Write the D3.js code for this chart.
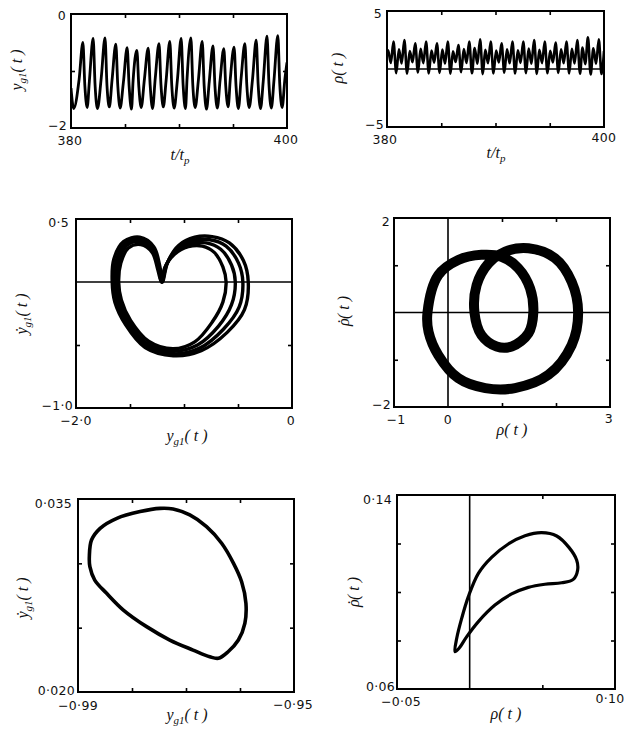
<!DOCTYPE html>
<html>
<head>
<meta charset="utf-8">
<script src="https://cdn.jsdelivr.net/npm/d3@7"></script>
<style>
  body { margin: 0; background: #fff; }
  .tick-label { font-family: "DejaVu Sans", sans-serif; font-size: 12.5px; fill: #111; letter-spacing: 0.3px; }
  .axis-label { font-family: "Liberation Serif", serif; font-style: italic; font-size: 16px; fill: #111; }
</style>
</head>
<body>
<svg id="fig" width="630" height="742"></svg>
<script>
// ---------- y_g1(t) time series: samples at peaks, shoulders and troughs ----------
const ygTimes = [
  380.00, 380.25, 380.75, 381.10, 381.28, 381.50, 381.70, 382.05, 382.23, 382.45,
  382.80, 383.15, 383.33, 383.55, 383.80, 384.15, 384.33, 384.55, 384.85, 385.20,
  385.38, 385.60, 385.75, 386.10, 386.28, 386.50, 386.80, 387.15, 387.33, 387.55,
  387.80, 388.15, 388.33, 388.55, 388.80, 389.15, 389.33, 389.55, 389.85, 390.20,
  390.38, 390.60, 390.75, 391.10, 391.28, 391.50, 391.80, 392.15, 392.33, 392.55,
  392.80, 393.15, 393.33, 393.55, 393.80, 394.15, 394.33, 394.55, 394.75, 395.10,
  395.28, 395.50, 395.75, 396.10, 396.28, 396.50, 396.80, 397.15, 397.33, 397.55,
  397.80, 398.15, 398.33, 398.55, 398.80, 399.15, 399.33, 399.55, 399.80, 400.00
];
const ygValues = [
  -1.30, -1.66, -1.15, -0.50, -1.25, -1.64, -1.18, -0.43, -1.25, -1.66,
  -1.12, -0.42, -1.25, -1.63, -1.16, -0.53, -1.25, -1.65, -1.20, -0.59,
  -1.26, -1.67, -1.17, -0.64, -1.27, -1.64, -1.14, -0.60, -1.25, -1.66,
  -1.13, -0.52, -1.24, -1.63, -1.18, -0.48, -1.25, -1.65, -1.16, -0.43,
  -1.24, -1.66, -1.12, -0.42, -1.25, -1.64, -1.15, -0.48, -1.26, -1.67,
  -1.19, -0.56, -1.27, -1.65, -1.17, -0.61, -1.27, -1.63, -1.14, -0.58,
  -1.26, -1.66, -1.13, -0.52, -1.25, -1.64, -1.16, -0.46, -1.24, -1.66,
  -1.18, -0.39, -1.23, -1.65, -1.15, -0.38, -1.23, -1.64, -1.15, -0.85
];

// ---------- rho(t) time series ----------
const rhoTimes = [
  380.00, 380.10, 380.35, 380.60, 380.85, 381.10, 381.35, 381.60, 381.85, 382.10,
  382.35, 382.60, 382.85, 383.10, 383.35, 383.60, 383.85, 384.10, 384.35, 384.60,
  384.85, 385.10, 385.35, 385.60, 385.85, 386.08, 386.33, 386.58, 386.83, 387.08,
  387.33, 387.58, 387.83, 388.08, 388.33, 388.58, 388.83, 389.06, 389.31, 389.56,
  389.81, 390.06, 390.31, 390.56, 390.81, 391.06, 391.31, 391.56, 391.81, 392.06,
  392.31, 392.56, 392.81, 393.06, 393.31, 393.56, 393.81, 394.04, 394.29, 394.54,
  394.79, 395.04, 395.29, 395.54, 395.79, 396.04, 396.29, 396.54, 396.79, 397.04,
  397.29, 397.54, 397.79, 398.02, 398.27, 398.52, 398.77, 399.02, 399.27, 399.52,
  399.77, 400.00
];
const rhoValues = [
  1.45, 1.62, 0.52, 2.36, -0.36, 1.70, 0.48, 2.50, -0.40, 1.55,
  0.58, 2.21, -0.30, 1.75, 0.50, 2.36, -0.38, 1.60, 0.55, 2.21,
  -0.33, 1.68, 0.47, 2.36, -0.40, 1.52, 0.60, 2.07, -0.28, 1.72,
  0.52, 2.36, -0.37, 1.80, 0.45, 2.56, -0.44, 1.65, 0.50, 2.36,
  -0.38, 1.58, 0.56, 2.21, -0.32, 1.70, 0.49, 2.36, -0.39, 1.62,
  0.53, 2.36, -0.36, 1.76, 0.46, 2.50, -0.42, 1.66, 0.51, 2.36,
  -0.37, 1.57, 0.57, 2.27, -0.33, 1.70, 0.50, 2.36, -0.38, 1.74,
  0.47, 2.50, -0.41, 1.85, 0.42, 2.73, -0.47, 1.78, 0.46, 2.56,
  -0.43, 1.55
];

// ---------- phase portrait (y_g1, dy_g1/dt): four close passes of the attractor ----------
const heartLoopA = [
  [-1.665, 0.00], [-1.650, 0.18], [-1.560, 0.32], [-1.410, 0.355], [-1.280, 0.28], [-1.225, 0.13],
  [-1.200, 0.00], [-1.150, 0.16], [-1.050, 0.29], [-0.900, 0.355], [-0.740, 0.36], [-0.580, 0.31],
  [-0.450, 0.17], [-0.405, 0.00], [-0.440, -0.22], [-0.600, -0.40], [-0.840, -0.545], [-1.100, -0.585],
  [-1.360, -0.52], [-1.540, -0.34], [-1.640, -0.16]
];
const heartLoopB = [
  [-1.645, 0.00], [-1.627, 0.17], [-1.545, 0.305], [-1.408, 0.337], [-1.285, 0.265], [-1.230, 0.12],
  [-1.203, 0.00], [-1.160, 0.14], [-1.065, 0.265], [-0.915, 0.33], [-0.760, 0.335], [-0.610, 0.285],
  [-0.495, 0.15], [-0.455, 0.00], [-0.490, -0.20], [-0.635, -0.375], [-0.855, -0.525], [-1.100, -0.57],
  [-1.350, -0.505], [-1.525, -0.33], [-1.620, -0.158]
];
const heartLoopC = [
  [-1.625, 0.00], [-1.605, 0.16], [-1.530, 0.29], [-1.405, 0.318], [-1.290, 0.25], [-1.237, 0.11],
  [-1.206, 0.00], [-1.170, 0.125], [-1.080, 0.24], [-0.940, 0.305], [-0.795, 0.31], [-0.660, 0.26],
  [-0.560, 0.135], [-0.525, 0.00], [-0.560, -0.18], [-0.680, -0.35], [-0.875, -0.50], [-1.100, -0.55],
  [-1.340, -0.49], [-1.510, -0.318], [-1.600, -0.15]
];
const heartLoopD = [
  [-1.605, 0.00], [-1.585, 0.15], [-1.515, 0.27], [-1.400, 0.297], [-1.295, 0.235], [-1.243, 0.10],
  [-1.209, 0.00], [-1.180, 0.11], [-1.095, 0.215], [-0.960, 0.28], [-0.830, 0.285], [-0.720, 0.235],
  [-0.640, 0.12], [-0.610, 0.00], [-0.640, -0.16], [-0.740, -0.32], [-0.900, -0.475], [-1.100, -0.53],
  [-1.328, -0.47], [-1.495, -0.305], [-1.580, -0.142]
];

// ---------- phase portrait (rho, drho/dt) ----------
const rhoLoop = [
  [-0.38, 0.00], [-0.18, 0.79], [0.19, 1.11], [0.62, 1.22], [0.99, 1.18], [1.30, 0.94],
  [1.52, 0.51], [1.58, 0.00], [1.49, -0.44], [1.18, -0.72], [0.90, -0.72], [0.62, -0.48],
  [0.49, 0.00], [0.53, 0.58], [0.75, 1.04], [1.06, 1.29], [1.49, 1.36], [1.98, 1.15],
  [2.29, 0.65], [2.41, 0.00], [2.29, -0.69], [1.86, -1.32], [1.24, -1.60], [0.69, -1.60],
  [0.19, -1.39], [-0.18, -0.90], [-0.36, -0.41]
];

// ---------- limit cycle (y_g1, dy_g1/dt) ----------
const ygCycle = [
  [-0.9879, 0.03052], [-0.9875, 0.03181], [-0.9859, 0.03272], [-0.9828, 0.03350], [-0.9785, 0.03402],
  [-0.9748, 0.03427], [-0.9724, 0.03422], [-0.9693, 0.03376], [-0.9662, 0.03285], [-0.9634, 0.03156],
  [-0.9612, 0.03000], [-0.9597, 0.02857], [-0.9589, 0.02689], [-0.9591, 0.02534], [-0.9603, 0.02404],
  [-0.9622, 0.02313], [-0.9640, 0.02262], [-0.9656, 0.02274], [-0.9687, 0.02326], [-0.9730, 0.02404],
  [-0.9773, 0.02508], [-0.9816, 0.02637], [-0.9847, 0.02767], [-0.9869, 0.02870], [-0.9878, 0.02974]
];

// ---------- limit cycle (rho, drho/dt) ----------
const rhoCycle = [
  [-0.0101, 0.0754], [-0.0089, 0.0809], [-0.0055, 0.0891], [-0.0009, 0.0981], [0.0060, 0.1077],
  [0.0151, 0.1143], [0.0266, 0.1198], [0.0381, 0.1232], [0.0495, 0.1245], [0.0599, 0.1231],
  [0.0683, 0.1184], [0.0736, 0.1132], [0.0743, 0.1091], [0.0713, 0.1052], [0.0633, 0.1038],
  [0.0518, 0.1032], [0.0403, 0.1019], [0.0289, 0.0992], [0.0174, 0.0946], [0.0060, 0.0878],
  [-0.0020, 0.0816], [-0.0073, 0.0768]
];

// ---------- axis ranges, inner tick positions and tick labels ----------
const p1X = [380, 400], p1Y = [-2, 0], p1XTicks = [385, 390, 395], p1YTicks = [-1];
const p1XLabels = ["380", "400"], p1YLabels = ["\u22122", "0"];
const p2X = [380, 400], p2Y = [-5, 5], p2XTicks = [385, 390, 395], p2YTicks = [];
const p2XLabels = ["380", "400"], p2YLabels = ["\u22125", "5"];
const p3X = [-2, 0], p3Y = [-1, 0.5], p3XTicks = [-1.5, -1, -0.5], p3YTicks = [-0.5];
const p3XLabels = ["\u22122\u00b70", "0"], p3YLabels = ["\u22121\u00b70", "0\u00b75"];
const p4X = [-1, 3], p4Y = [-2, 2], p4XTicks = [1, 2], p4YTicks = [-1, 1];
const p4XLabels = ["\u22121", "0", "3"], p4YLabels = ["\u22122", "2"];
const p5X = [-0.99, -0.95], p5Y = [0.020, 0.035], p5XTicks = [-0.98, -0.97, -0.96], p5YTicks = [0.025, 0.030];
const p5XLabels = ["\u22120\u00b799", "\u22120\u00b795"], p5YLabels = ["0\u00b7020", "0\u00b7035"];
const p6X = [-0.05, 0.10], p6Y = [0.06, 0.14], p6XTicks = [0.05], p6YTicks = [0.08, 0.10, 0.12];
const p6XLabels = ["\u22120\u00b705", "0\u00b710"], p6YLabels = ["0\u00b706", "0\u00b714"];

const svg = d3.select('#fig');

function makePanel(box, xDom, yDom, xTicks, yTicks) {
  const x = d3.scaleLinear().domain(xDom).range([box.x0, box.x1]);
  const y = d3.scaleLinear().domain(yDom).range([box.y1, box.y0]);
  const g = svg.append('g');
  const id = 'clip' + Math.round(box.x0) + '_' + Math.round(box.y0);
  svg.append('clipPath').attr('id', id).append('rect')
    .attr('x', box.x0).attr('y', box.y0)
    .attr('width', box.x1 - box.x0).attr('height', box.y1 - box.y0);
  const plot = g.append('g').attr('clip-path', `url(#${id})`);
  // inward ticks on all four sides
  const tk = 4;
  const axes = [
    [d3.axisBottom(x).tickValues(xTicks), `translate(0,${box.y1})`],
    [d3.axisTop(x).tickValues(xTicks), `translate(0,${box.y0})`],
    [d3.axisLeft(y).tickValues(yTicks), `translate(${box.x0},0)`],
    [d3.axisRight(y).tickValues(yTicks), `translate(${box.x1},0)`]
  ];
  axes.forEach(([ax, tr]) => {
    const a = g.append('g').attr('transform', tr)
      .call(ax.tickSize(-tk).tickFormat(''));
    a.select('.domain').remove();
    a.selectAll('line').attr('stroke', '#000').attr('stroke-width', 1.6);
  });
  g.append('rect')
    .attr('x', box.x0).attr('y', box.y0)
    .attr('width', box.x1 - box.x0).attr('height', box.y1 - box.y0)
    .attr('fill', 'none').attr('stroke', '#000').attr('stroke-width', 2);
  return { x, y, g, plot, box };
}

function hLine(p, v) {
  p.plot.append('line').attr('x1', p.box.x0).attr('x2', p.box.x1)
    .attr('y1', p.y(v)).attr('y2', p.y(v))
    .attr('stroke', '#000').attr('stroke-width', 1.6);
}
function vLine(p, v) {
  p.plot.append('line').attr('y1', p.box.y0).attr('y2', p.box.y1)
    .attr('x1', p.x(v)).attr('x2', p.x(v))
    .attr('stroke', '#000').attr('stroke-width', 1.6);
}
function label(text, x, y, anchor) {
  svg.append('text').attr('class', 'tick-label')
    .attr('x', x).attr('y', y).attr('text-anchor', anchor || 'middle').text(text);
}
// axis title built from pieces: [text, kind] with kind 'sub' (subscript), 'dot' (dot accent) or plain
function title(parts, cx, cy, rotate) {
  const t = svg.append('text').attr('class', 'axis-label')
    .attr('text-anchor', 'middle')
    .attr('transform', `translate(${cx},${cy})` + (rotate ? ' rotate(-90)' : ''));
  let sub = false;
  parts.forEach(([s, kind]) => {
    const ts = t.append('tspan').text(s);
    if (kind === 'sub' && !sub) ts.attr('dy', 4).attr('font-size', 11);
    if (kind !== 'sub' && sub) ts.attr('dy', -4);
    if (kind === 'dot') ts.attr('dx', -6.5);
    if (kind === 'afterdot') ts.attr('dx', 0.5);
    sub = kind === 'sub';
  });
}

const series = (p, curve) => d3.line().x(d => p.x(d[0])).y(d => p.y(d[1])).curve(curve);

// ---- panel 1: y_g1(t) ----
const P1 = makePanel({ x0: 71, x1: 287, y0: 14, y1: 128 }, p1X, p1Y, p1XTicks, p1YTicks);
P1.plot.append('path').datum(d3.zip(ygTimes, ygValues))
  .attr('d', series(P1, d3.curveMonotoneX))
  .attr('fill', 'none').attr('stroke', '#000').attr('stroke-width', 2.8);
label(p1YLabels[1], 66, 20, 'end');
label(p1YLabels[0], 67, 130, 'end');
label(p1XLabels[0], 70, 145);
label(p1XLabels[1], 286, 144);
title([['t/t'], ['p', 'sub']], 180, 160, false);
title([['y'], ['g1', 'sub'], ['( t )']], 22, 70, true);

// ---- panel 2: rho(t) ----
const P2 = makePanel({ x0: 387, x1: 604, y0: 11, y1: 127 }, p2X, p2Y, p2XTicks, p2YTicks);
hLine(P2, 0);
P2.plot.append('path').datum(d3.zip(rhoTimes, rhoValues))
  .attr('d', series(P2, d3.curveMonotoneX))
  .attr('fill', 'none').attr('stroke', '#000').attr('stroke-width', 2.6);
label(p2YLabels[1], 382, 18, 'end');
label(p2YLabels[0], 384, 129, 'end');
label(p2XLabels[0], 385, 144);
label(p2XLabels[1], 604, 142);
title([['t/t'], ['p', 'sub']], 496, 158, false);
title([['\u03c1( t )']], 343, 68, true);

// ---- panel 3: phase portrait of y_g1 ----
const P3 = makePanel({ x0: 76, x1: 292, y0: 219, y1: 408 }, p3X, p3Y, p3XTicks, p3YTicks);
hLine(P3, 0);
[heartLoopA, heartLoopB, heartLoopC, heartLoopD].forEach(loop => {
  P3.plot.append('path').datum(loop)
    .attr('d', series(P3, d3.curveCatmullRomClosed.alpha(0.5)))
    .attr('fill', 'none').attr('stroke', '#000').attr('stroke-width', 3.4);
});
label(p3YLabels[1], 69, 227, 'end');
label(p3YLabels[0], 73, 410, 'end');
label(p3XLabels[0], 76, 425);
label(p3XLabels[1], 291, 425);
title([['y'], ['g1', 'sub'], ['( t )']], 187, 441, false);
title([['\u1e8f'], ['g1', 'sub'], ['( t )']], 27, 314, true);

// ---- panel 4: phase portrait of rho ----
const P4 = makePanel({ x0: 394, x1: 610, y0: 218, y1: 407 }, p4X, p4Y, p4XTicks, p4YTicks);
hLine(P4, 0);
vLine(P4, 0);
P4.plot.append('path').datum(rhoLoop)
  .attr('d', series(P4, d3.curveCatmullRomClosed.alpha(0.5)))
  .attr('fill', 'none').attr('stroke', '#000').attr('stroke-width', 10);
label(p4YLabels[1], 390, 226, 'end');
label(p4YLabels[0], 391, 409, 'end');
label(p4XLabels[0], 396, 424);
label(p4XLabels[1], P4.x(0), 424);
label(p4XLabels[2], 609, 423);
title([['\u03c1( t )']], 512, 435, false);
title([['\u03c1'], ['\u02d9', 'dot'], ['( t )', 'afterdot']], 349, 311, true);

// ---- panel 5: limit cycle of y_g1 ----
const P5 = makePanel({ x0: 78, x1: 294, y0: 499, y1: 692 }, p5X, p5Y, p5XTicks, p5YTicks);
P5.plot.append('path').datum(ygCycle)
  .attr('d', series(P5, d3.curveCatmullRomClosed.alpha(0.5)))
  .attr('fill', 'none').attr('stroke', '#000').attr('stroke-width', 3.6);
label(p5YLabels[1], 72, 508, 'end');
label(p5YLabels[0], 75, 695, 'end');
label(p5XLabels[0], 78, 710);
label(p5XLabels[1], 293, 709);
title([['y'], ['g1', 'sub'], ['( t )']], 187, 720, false);
title([['\u1e8f'], ['g1', 'sub'], ['( t )']], 28, 598, true);

// ---- panel 6: limit cycle of rho ----
const P6 = makePanel({ x0: 397, x1: 615, y0: 495, y1: 689 }, p6X, p6Y, p6XTicks, p6YTicks);
vLine(P6, 0);
P6.plot.append('path').datum(rhoCycle)
  .attr('d', series(P6, d3.curveCatmullRomClosed.alpha(0.5)))
  .attr('fill', 'none').attr('stroke', '#000').attr('stroke-width', 3.2);
label(p6YLabels[1], 392, 504, 'end');
label(p6YLabels[0], 395, 691, 'end');
label(p6XLabels[0], 401, 706);
label(p6XLabels[1], 610, 703);
title([['\u03c1( t )']], 506, 719, false);
title([['\u03c1'], ['\u02d9', 'dot'], ['( t )', 'afterdot']], 359, 592, true);
</script>
</body>
</html>
